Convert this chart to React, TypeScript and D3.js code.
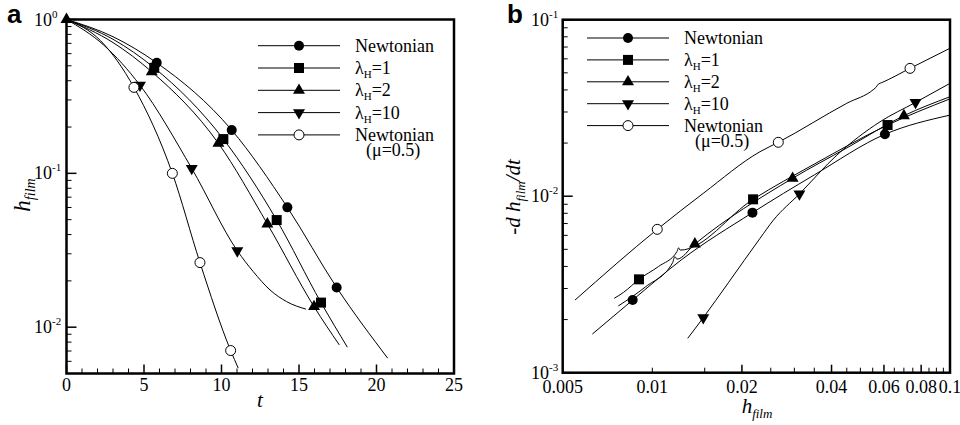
import React from 'react';
import * as d3 from 'd3';

// ---------- Panel a: h_film vs t ----------
const tNewtonian = [0, 3, 5.82, 10.66, 14.25, 17.43, 20.72];
const hNewtonian = [1, 0.773, 0.523, 0.191, 0.0601, 0.0181, 0.00629];
const mkNewtonian = [2, 3, 4, 5];

const tLam1 = [0, 3, 5.66, 10.12, 13.56, 16.42, 18.12];
const hLam1 = [1, 0.744, 0.485, 0.167, 0.0497, 0.01445, 0.00741];
const mkLam1 = [2, 3, 4, 5];

const tLam2 = [0, 3, 5.5, 9.8, 12.96, 15.97, 17.6];
const hLam2 = [1, 0.708, 0.457, 0.1567, 0.0469, 0.0136, 0.00767];
const mkLam2 = [2, 3, 4, 5];

const tLam10 = [0, 2.4, 4.74, 8.08, 11.02, 12.05, 13.13, 14.2, 15.45];
const hLam10 = [1, 0.682, 0.374, 0.1077, 0.0314, 0.02296, 0.01746, 0.01466, 0.0131];
const mkLam10 = [2, 3, 4];

const tNewtMu = [0, 2.2, 4.35, 6.83, 8.61, 10.59, 11.08];
const hNewtMu = [1, 0.728, 0.362, 0.1, 0.0263, 0.00705, 0.00542];
const mkNewtMu = [2, 3, 4, 5];

// ---------- Panel b: -dh/dt vs h_film ----------
const hbNewtonian = [0.00629, 0.00859, 0.0125, 0.0217, 0.035, 0.06045, 0.1];
const rbNewtonian = [0.001656, 0.00258, 0.00435, 0.00807, 0.0132, 0.02243, 0.0288];
const mbNewtonian = [1, 3, 5];

const hbLam1 = [0.00745, 0.008, 0.00902, 0.0105, 0.0121, 0.01225, 0.0124, 0.0218, 0.035, 0.0617, 0.1];
const rbLam1 = [0.00264, 0.00285, 0.00338, 0.004, 0.00485, 0.0051, 0.00495, 0.0096, 0.0152, 0.0253, 0.0356];
const mbLam1 = [2, 7, 9];

const hbLam2 = [0.00769, 0.0095, 0.0117, 0.0119, 0.0121, 0.0139, 0.0296, 0.045, 0.07, 0.1];
const rbLam2 = [0.00239, 0.00307, 0.0042, 0.00455, 0.0044, 0.00536, 0.01263, 0.01876, 0.02858, 0.0366];
const mbLam2 = [5, 6, 8];

const hbLam10 = [0.01315, 0.01483, 0.018, 0.023, 0.0255, 0.0312, 0.0417, 0.0582, 0.0766, 0.1];
const rbLam10 = [0.001566, 0.00205, 0.00323, 0.00577, 0.00731, 0.0103, 0.0171, 0.0264, 0.034, 0.0436];
const mbLam10 = [1, 5, 8];

const hbNewtMu = [0.0055, 0.01039, 0.01483, 0.023, 0.0265, 0.045, 0.0555, 0.0565, 0.0575, 0.059, 0.0734, 0.1];
const rbNewtMu = [0.00258, 0.00649, 0.01038, 0.01787, 0.0202, 0.0336, 0.0404, 0.0415, 0.0432, 0.044, 0.053, 0.0689];
const mbNewtMu = [1, 4, 10];

// ---------- ticks ----------
const aXMajor = [0, 5, 10, 15, 20, 25];
const aXMinor = d3.range(0, 26).filter((v) => v % 5 !== 0);
const aYMajor = [1, 0.1, 0.01];
const aYExp = ['0', '-1', '-2'];
const bYMajor = [0.1, 0.01, 0.001];
const bYExp = ['-1', '-2', '-3'];
const bXLabels = [0.005, 0.01, 0.02, 0.04, 0.06, 0.08, 0.1];
const bXMajor = [0.02, 0.04, 0.06, 0.08];
const bXMinor = [0.01, 0.015, 0.025, 0.03, 0.035, 0.045, 0.05, 0.055, 0.065, 0.07, 0.075, 0.085, 0.09, 0.095];

type Shape = 'circle' | 'square' | 'up' | 'down' | 'open';
const seriesNames = ['Newtonian', 'λ=1', 'λ=2', 'λ=10', 'Newtonian'];
const seriesShapes: Shape[] = ['circle', 'square', 'up', 'down', 'open'];
const legendSub = ['', '1', '2', '10', ''];

const SERIF = 'Liberation Serif, Times New Roman, DejaVu Serif, serif';
const SANS = 'Liberation Sans, Arial, DejaVu Sans, sans-serif';

const serif = (size: number, italic = false): React.CSSProperties => ({
  fontFamily: SERIF,
  fontSize: size,
  fontStyle: italic ? 'italic' : 'normal',
});

function logMinor(lo: number, hi: number): number[] {
  const out: number[] = [];
  for (let e = -4; e <= 0; e++) {
    for (let m = 2; m <= 9; m++) {
      const v = m * Math.pow(10, e);
      if (v >= lo * 0.9999 && v <= hi * 1.0001) out.push(v);
    }
  }
  return out;
}

function Marker({ shape, x, y }: { shape: Shape; x: number; y: number }) {
  if (shape === 'circle') return <circle cx={x} cy={y} r={5} fill="#000" />;
  if (shape === 'open') return <circle cx={x} cy={y} r={5} fill="#fff" stroke="#000" strokeWidth={1} />;
  if (shape === 'square') return <rect x={x - 5} y={y - 5} width={10} height={10} fill="#000" />;
  const p = d3.symbol().type(d3.symbolTriangle).size(62)()!;
  return <path d={p} transform={`translate(${x},${y}) rotate(${shape === 'down' ? 180 : 0})`} fill="#000" />;
}

function Legend({ x0, y0, step }: { x0: number; y0: number; step: number }) {
  return (
    <g>
      {seriesNames.map((name, i) => {
        const y = y0 + i * step;
        return (
          <g key={i}>
            <line x1={x0} x2={x0 + 82} y1={y} y2={y} stroke="#000" strokeWidth={1} />
            <Marker shape={seriesShapes[i]} x={x0 + 41} y={y} />
            {legendSub[i] ? (
              <text x={x0 + 97} y={y + 6} style={serif(18)}>
                λ<tspan dy={4} style={{ fontSize: 11 }}>H</tspan>
                <tspan dy={-4}>={legendSub[i]}</tspan>
              </text>
            ) : (
              <text x={x0 + 97} y={y + 6} style={serif(18)}>{name}</text>
            )}
          </g>
        );
      })}
      <text x={x0 + 108} y={y0 + 5 * step - 1} style={serif(18)}>(μ=0.5)</text>
    </g>
  );
}

export default function App() {
  const xA = d3.scaleLinear().domain([0, 25]).range([66.5, 454]);
  const yA = d3.scaleLog().domain([0.005, 1]).range([373.5, 19.5]);
  const xB = d3.scaleLog().domain([0.005, 0.1]).range([562.7, 950]);
  const yB = d3.scaleLog().domain([0.001, 0.1]).range([372.7, 19.7]);

  const lineA = d3
    .line<[number, number]>()
    .x((d) => xA(d[0]))
    .y((d) => yA(d[1]))
    .curve(d3.curveMonotoneX);
  const lineB = d3
    .line<[number, number]>()
    .x((d) => xB(d[0]))
    .y((d) => yB(d[1]))
    .curve(d3.curveMonotoneX);

  const seriesA = [
    { x: tNewtonian, y: hNewtonian, m: mkNewtonian },
    { x: tLam1, y: hLam1, m: mkLam1 },
    { x: tLam2, y: hLam2, m: mkLam2 },
    { x: tLam10, y: hLam10, m: mkLam10 },
    { x: tNewtMu, y: hNewtMu, m: mkNewtMu },
  ];
  const seriesB = [
    { x: hbNewtonian, y: rbNewtonian, m: mbNewtonian },
    { x: hbLam1, y: rbLam1, m: mbLam1 },
    { x: hbLam2, y: rbLam2, m: mbLam2 },
    { x: hbLam10, y: rbLam10, m: mbLam10 },
    { x: hbNewtMu, y: rbNewtMu, m: mbNewtMu },
  ];

  const [ax0, ax1] = xA.range();
  const [ay0, ay1] = yA.range();
  const [bx0, bx1] = xB.range();
  const [by0, by1] = yB.range();

  return (
    <svg width={960} height={425} style={{ position: 'absolute', left: 0, top: 0, background: '#fff' }}>
      <rect width={960} height={425} fill="#fff" />
      {/* ===== Panel a ===== */}
      <text x={7} y={23} style={{ fontFamily: SANS, fontWeight: 'bold', fontSize: 26 }}>a</text>
      {seriesA.map((s, i) => (
        <path key={i} d={lineA(s.x.map((v, j) => [v, s.y[j]] as [number, number]))!} fill="none" stroke="#000" strokeWidth={1} />
      ))}
      {seriesA.map((s, i) =>
        s.m.map((j) => <Marker key={`${i}-${j}`} shape={seriesShapes[i]} x={xA(s.x[j])} y={yA(s.y[j])} />)
      )}
      <Marker shape="up" x={xA(0)} y={yA(1)} />
      {aXMajor.map((v) => (
        <g key={v}>
          <line x1={xA(v)} x2={xA(v)} y1={ay0} y2={ay0 - 9} stroke="#000" strokeWidth={1.5} />
          <text x={xA(v)} y={391} textAnchor="middle" style={serif(18)}>{v}</text>
        </g>
      ))}
      {aXMinor.map((v) => (
        <line key={v} x1={xA(v)} x2={xA(v)} y1={ay0} y2={ay0 - 5} stroke="#000" strokeWidth={1} />
      ))}
      {aYMajor.map((v, i) => (
        <g key={v}>
          <line x1={ax0} x2={ax0 + 10} y1={yA(v)} y2={yA(v)} stroke="#000" strokeWidth={1.5} />
          <text x={34} y={yA(v) + 6} style={serif(18)}>
            10<tspan dy={-8} style={{ fontSize: 11 }}>{aYExp[i]}</tspan>
          </text>
        </g>
      ))}
      {logMinor(0.005, 1).map((v) => (
        <line key={v} x1={ax0} x2={ax0 + 5} y1={yA(v)} y2={yA(v)} stroke="#000" strokeWidth={1} />
      ))}
      <rect x={ax0} y={ay1} width={ax1 - ax0} height={ay0 - ay1} fill="none" stroke="#000" strokeWidth={2.5} />
      <Legend x0={258} y0={45.7} step={22.3} />
      <text x={260} y={407} textAnchor="middle" style={serif(21, true)}>t</text>
      <text transform="translate(30,195) rotate(-90)" textAnchor="middle" style={serif(23, true)}>
        h<tspan dy={5} style={{ fontSize: 14 }}>film</tspan>
      </text>

      {/* ===== Panel b ===== */}
      <text x={507} y={23} style={{ fontFamily: SANS, fontWeight: 'bold', fontSize: 26 }}>b</text>
      {seriesB.map((s, i) => (
        <path key={i} d={lineB(s.x.map((v, j) => [v, s.y[j]] as [number, number]))!} fill="none" stroke="#000" strokeWidth={1} />
      ))}
      {seriesB.map((s, i) =>
        s.m.map((j) => <Marker key={`${i}-${j}`} shape={seriesShapes[i]} x={xB(s.x[j])} y={yB(s.y[j])} />)
      )}
      {bXMajor.map((v) => (
        <line key={v} x1={xB(v)} x2={xB(v)} y1={by0} y2={by0 - 8} stroke="#000" strokeWidth={1.5} />
      ))}
      {bXMinor.map((v) => (
        <line key={v} x1={xB(v)} x2={xB(v)} y1={by0} y2={by0 - 5} stroke="#000" strokeWidth={1} />
      ))}
      {bXLabels.map((v) => (
        <text key={v} x={xB(v)} y={393} textAnchor="middle" style={serif(18)}>{String(v)}</text>
      ))}
      {bYMajor.map((v, i) => (
        <g key={v}>
          <line x1={bx0} x2={bx0 + 10} y1={yB(v)} y2={yB(v)} stroke="#000" strokeWidth={1.5} />
          <text x={531} y={yB(v) + 6} style={serif(18)}>
            10<tspan dy={-8} style={{ fontSize: 11 }}>{bYExp[i]}</tspan>
          </text>
        </g>
      ))}
      {logMinor(0.001, 0.1).map((v) => (
        <line key={v} x1={bx0} x2={bx0 + 5} y1={yB(v)} y2={yB(v)} stroke="#000" strokeWidth={1} />
      ))}
      <rect x={bx0} y={by1} width={bx1 - bx0} height={by0 - by1} fill="none" stroke="#000" strokeWidth={2.5} />
      <Legend x0={587} y0={38} step={21.9} />
      <text x={757} y={413} textAnchor="middle" style={serif(21, true)}>
        h<tspan dy={5} style={{ fontSize: 13 }}>film</tspan>
      </text>
      <text transform="translate(520,197) rotate(-90)" textAnchor="middle" style={serif(21, true)}>
        -d h<tspan dy={5} style={{ fontSize: 13 }}>film</tspan>
        <tspan dy={-5}>/dt</tspan>
      </text>
    </svg>
  );
}
